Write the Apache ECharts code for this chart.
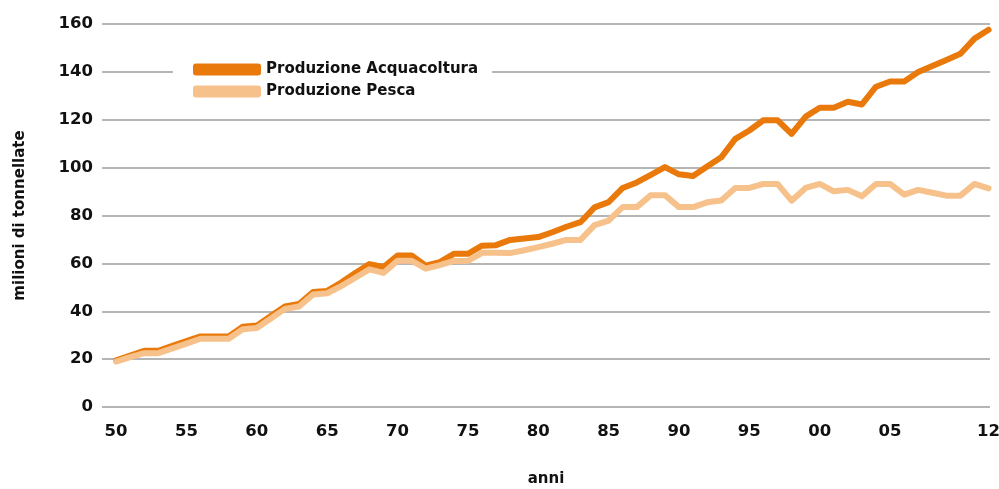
<!DOCTYPE html>
<html>
<head>
<meta charset="utf-8">
<script src="https://cdn.jsdelivr.net/npm/echarts@6/dist/echarts.min.js"></script>
<style>
  html, body { margin: 0; padding: 0; background: #fff; }
  #main { width: 999px; height: 489px; }
</style>
</head>
<body>
<div id="main"></div>
<script>
// anni 1950 - 2012
const years = [];
for (let y = 1950; y <= 2012; y++) years.push(y);

// etichette sull'asse x
const tickYears = [1950, 1955, 1960, 1965, 1970, 1975, 1980, 1985, 1990, 1995, 2000, 2005, 2012];

// milioni di tonnellate
const acquacoltura = [
  19.5, 21.5, 23.5, 23.5, 25.5, 27.5, 29.5, 29.5, 29.5, 33.5,
  34, 38, 42, 43, 48, 48.5, 52, 56, 59.7, 58.5,
  63.3, 63.3, 59, 60.5, 64, 64, 67.4, 67.6, 69.8, 70.4,
  71, 73, 75.3, 77.2, 83.4, 85.6, 91.5, 93.8, 97, 100.2,
  97.2, 96.5, 100.5, 104.3, 112, 115.5, 119.8, 119.8, 114.1, 121.3,
  125, 125, 127.5, 126.4, 133.8, 136, 136, 139.9, 142.5, 145,
  147.6, 153.9, 157.6
];
const pesca = [
  19, 20.8, 22.5, 22.5, 24.5, 26.5, 28.5, 28.5, 28.5, 32.5,
  33, 37, 41, 42, 47, 47.5, 50.5, 54, 57.5, 56,
  61.1, 61.1, 57.8, 59.3, 61, 61, 64.4, 64.4, 64.3, 65.5,
  66.8, 68.2, 69.8, 69.8, 76, 77.9, 83.5, 83.5, 88.5, 88.5,
  83.5, 83.5, 85.5, 86.3, 91.5, 91.5, 93.2, 93.2, 86.2, 91.5,
  93.2, 90.1, 90.7, 88, 93.2, 93.2, 88.7, 90.7, 89.5, 88.3,
  88.3, 93.2, 91.3
];

const font = '"DejaVu Sans", sans-serif';
const dark = '#e9790a';
const light = '#f7c18c';

const chart = echarts.init(document.getElementById('main'));
chart.setOption({
  animation: false,
  textStyle: { fontFamily: font },
  grid: { left: 102, right: 9, top: 24, bottom: 82, outerBoundsMode: 'none' },
  legend: {
    orient: 'vertical',
    left: 173,
    top: 56,
    icon: 'roundRect',
    itemWidth: 68,
    itemHeight: 12,
    itemGap: 7,
    backgroundColor: '#fff',
    padding: [6, 14, 6, 20],
    textStyle: { fontFamily: font, fontWeight: 'bold', fontSize: 15, color: '#111' },
    data: ['Produzione Acquacoltura', 'Produzione Pesca']
  },
  xAxis: {
    type: 'value',
    min: 1949,
    max: 2012.1,
    name: 'anni',
    nameLocation: 'middle',
    nameGap: 65,
    nameTextStyle: { fontFamily: font, fontWeight: 'bold', fontSize: 15, color: '#111' },
    axisLine: { show: false },
    axisTick: { show: false },
    splitLine: { show: false },
    axisLabel: {
      customValues: tickYears,
      margin: 16,
      fontFamily: font,
      fontWeight: 'bold',
      fontSize: 16.5,
      color: '#111',
      formatter: v => String(v % 100).padStart(2, '0')
    }
  },
  yAxis: {
    type: 'value',
    min: 0,
    max: 160,
    interval: 20,
    name: 'milioni di tonnellate',
    nameLocation: 'middle',
    nameGap: 74,
    nameTextStyle: { fontFamily: font, fontWeight: 'bold', fontSize: 15, color: '#111' },
    axisLine: { show: false },
    axisTick: { show: false },
    axisLabel: { margin: 9, fontFamily: font, fontWeight: 'bold', fontSize: 16.5, color: '#111' },
    splitLine: { lineStyle: { color: '#b5b5b5', width: 2 } }
  },
  series: [
    {
      name: 'Produzione Acquacoltura',
      type: 'line',
      showSymbol: false,
      color: dark,
      lineStyle: { width: 6, cap: 'round', join: 'round' },
      data: years.map((y, i) => [y, acquacoltura[i]])
    },
    {
      name: 'Produzione Pesca',
      type: 'line',
      showSymbol: false,
      color: light,
      lineStyle: { width: 6, cap: 'round', join: 'round' },
      data: years.map((y, i) => [y, pesca[i]])
    }
  ]
});
</script>
</body>
</html>
